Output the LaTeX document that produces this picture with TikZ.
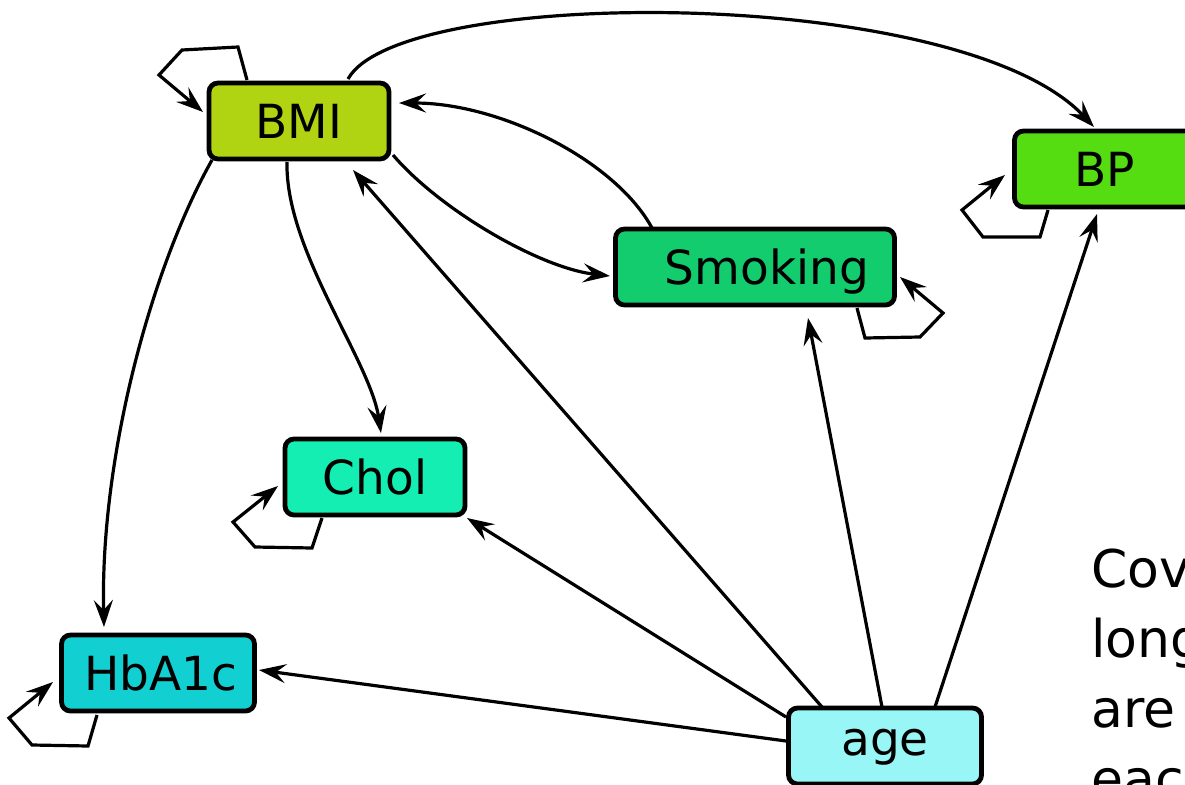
\documentclass[tikz,border=0pt]{standalone}
\usepackage{fontspec}
\setmainfont{DejaVu Sans}
\usetikzlibrary{arrows.meta}
\definecolor{cbmi}{HTML}{B0D412}
\definecolor{cbp}{HTML}{55DD11}
\definecolor{csmk}{HTML}{12CC6E}
\definecolor{cchol}{HTML}{14EEB2}
\definecolor{chba}{HTML}{12D0D2}
\definecolor{cage}{HTML}{99F6F6}
\tikzset{
  var/.style={draw=black, line width=4.8pt, rounded corners=9pt, minimum height=76pt,
    inner sep=0pt, text height=34pt, text depth=0pt,
    font=\fontsize{47}{56}\selectfont},
  edge/.style={line width=3.2pt, -{Stealth[length=27pt,width=19pt,inset=10pt]}},
  note/.style={anchor=base west, inner sep=0pt, font=\fontsize{52}{70}\selectfont}
}
\begin{document}
\begin{tikzpicture}[x=1pt,y=-1pt]
\useasboundingbox (0,0) rectangle (1185,784);
\clip (0,0) rectangle (1185,784);
% nodes
\node[var, fill=cbmi, minimum width=180pt] (BMI) at (299,121) {BMI};
\node[var, fill=cbp, minimum width=181pt] (BP) at (1105,169) {BP};
\node[var, fill=csmk, minimum width=279pt] (Smoking) at (755,267) {\hspace*{24pt}Smoking};
\node[var, fill=cchol, minimum width=180pt] (Chol) at (375,477) {Chol};
\node[var, fill=chba, minimum width=193pt] (HbA1c) at (158,673) {\hspace*{6pt}HbA1c};
\node[var, fill=cage, minimum width=193pt, text depth=16pt] (age) at (885,746) {age};
\node[note] (cov) at (1091,587) {\vtop{\baselineskip=70pt\hbox{Cov}\hbox{long}\hbox{are}\hbox{eac}}};
% curved edges from BMI
\draw[edge] ([shift={(49,-42)}]BMI.center) .. controls (400,-15) and (960,-15) .. ([shift={(-11,-42)}]BP.center);
\draw[edge] ([shift={(-103,-39)}]Smoking.center) .. controls (615,160) and (500,103) .. ([shift={(100,-18)}]BMI.center);
\draw[edge] ([shift={(94,34)}]BMI.center) .. controls (440,210) and (540,268) .. ([shift={(-145,9)}]Smoking.center);
\draw[edge] ([shift={(-12,41)}]BMI.center) .. controls (285,250) and (370,360) .. ([shift={(6,-44)}]Chol.center);
\draw[edge] ([shift={(-87,39)}]BMI.center) .. controls (150,270) and (100,460) .. ([shift={(-54,-46)}]HbA1c.center);
% straight edges from age
\draw[edge] ([shift={(-63,-39)}]age.center) -- ([shift={(54,49)}]BMI.center);
\draw[edge] ([shift={(-3,-39)}]age.center) -- ([shift={(53,51)}]Smoking.center);
\draw[edge] ([shift={(50,-39)}]age.center) -- ([shift={(-8,45)}]BP.center);
\draw[edge] ([shift={(-99,-29)}]age.center) -- ([shift={(92,41)}]Chol.center);
\draw[edge] ([shift={(-99,-5)}]age.center) -- ([shift={(101,-3)}]HbA1c.center);
% self loops
\draw[edge] ([shift={(-52,-41)}]BMI.center) -- ++(-9,-33) -- ++(-56,3) -- ++(-23,25) -- ([shift={(-96,-9)}]BMI.center);
\draw[edge] ([shift={(102,41)}]Smoking.center) -- ++(8,30) -- ++(55,-1) -- ++(23,-24) -- ([shift={(145,10)}]Smoking.center);
\draw[edge] ([shift={(-57,41)}]BP.center) -- ++(-8,27) -- ++(-57,0) -- ++(-21,-27) -- ([shift={(-100,6)}]BP.center);
\draw[edge] ([shift={(-53,41)}]Chol.center) -- ++(-10,30) -- ++(-57,-1) -- ++(-22,-25) -- ([shift={(-97,9)}]Chol.center);
\draw[edge] ([shift={(-61,42)}]HbA1c.center) -- ++(-9,31) -- ++(-56,-1) -- ++(-23,-27) -- ([shift={(-105,9)}]HbA1c.center);
\end{tikzpicture}
\end{document}
